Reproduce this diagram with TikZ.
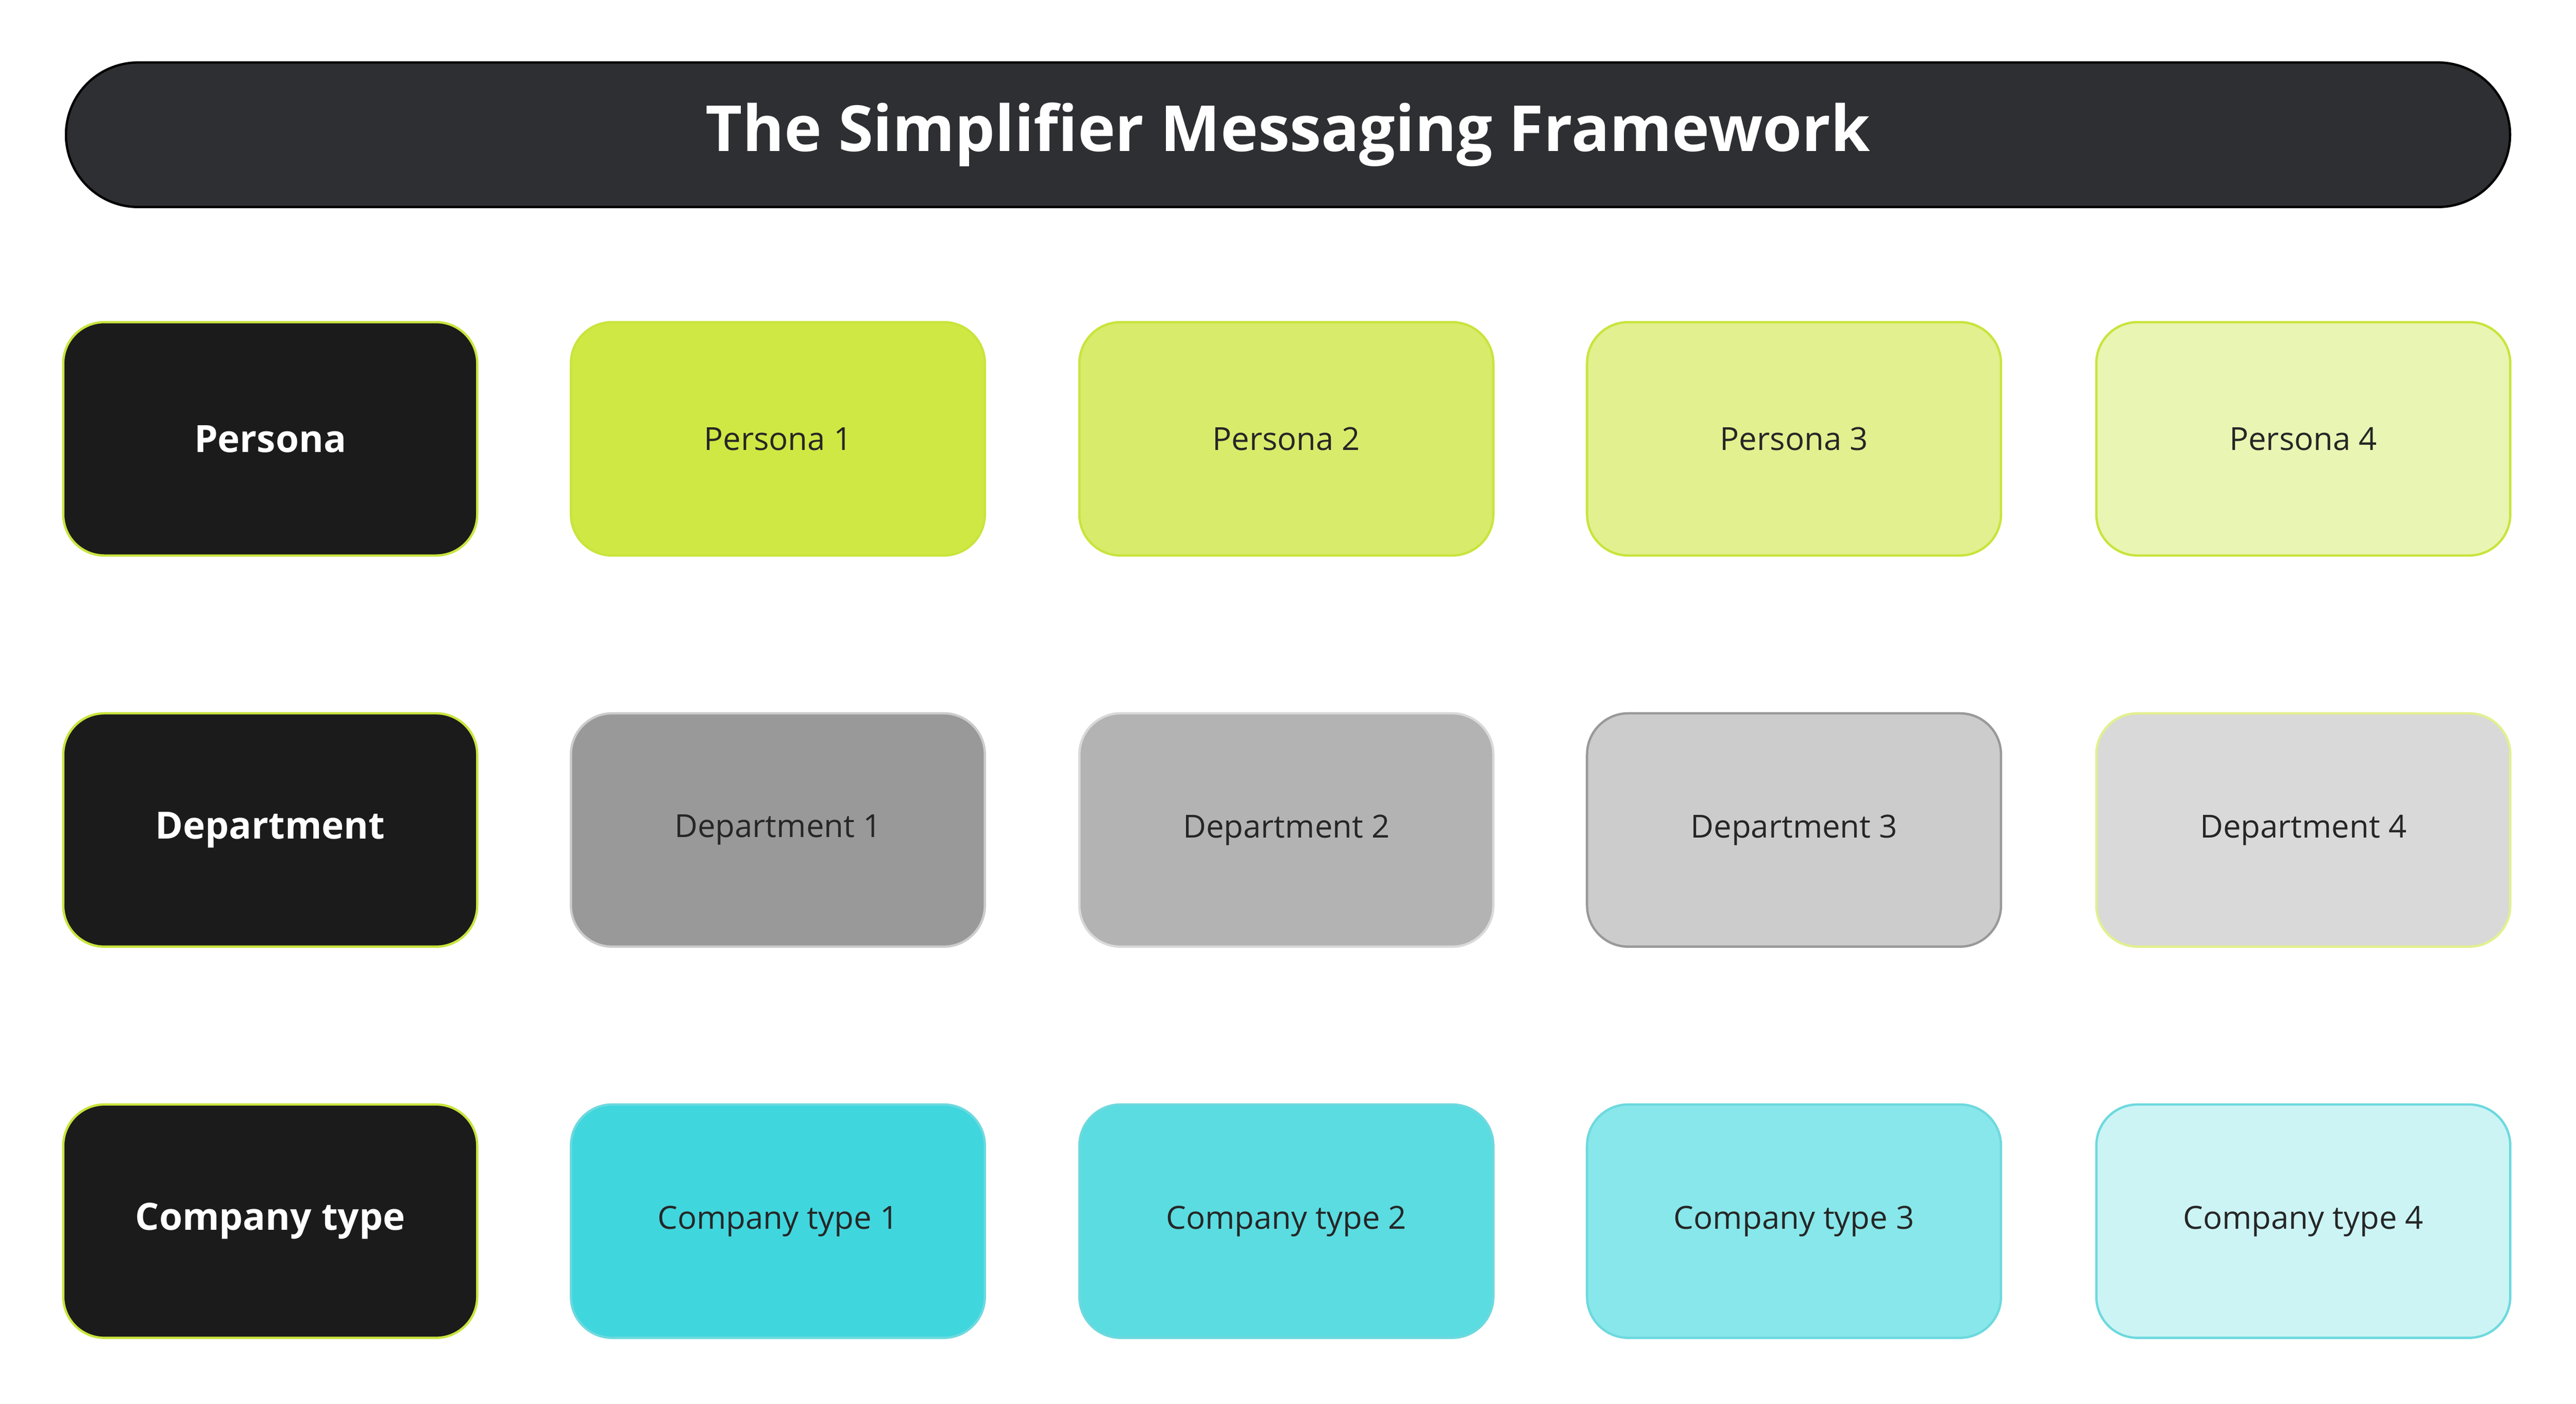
\documentclass[tikz,border=0pt]{standalone}
\usepackage{fontspec}
\setmainfont{Open Sans}
\usetikzlibrary{positioning}
\definecolor{titlebg}{HTML}{2E2F33}
\definecolor{headbg}{HTML}{1B1B1B}
\definecolor{lime}{HTML}{C9E43C}
\definecolor{pA}{HTML}{D0E843}
\definecolor{pB}{HTML}{D9EB6B}
\definecolor{pC}{HTML}{E2F08F}
\definecolor{pD}{HTML}{E9F5B3}
\definecolor{dA}{HTML}{999999}
\definecolor{dB}{HTML}{B3B3B3}
\definecolor{dC}{HTML}{CCCCCC}
\definecolor{dD}{HTML}{D9D9D9}
\definecolor{cA}{HTML}{40D6DE}
\definecolor{cB}{HTML}{5ADCE1}
\definecolor{cC}{HTML}{88E7EA}
\definecolor{cD}{HTML}{CCF4F5}
\definecolor{cline}{HTML}{2EC9D0}
\tikzset{
  cell/.style={draw, rounded corners=0.5cm, minimum width=5.04cm, minimum height=2.84cm,
    inner sep=0pt, line width=0.8pt, font=\fontsize{11}{13}\selectfont, text=black!85}, % grid boxes
  headcell/.style={cell, fill=headbg, draw=lime, text=white, font=\fontsize{13}{15}\selectfont\bfseries},
}
\begin{document}
\begin{tikzpicture}[x=0.02cm, y=-0.02cm]
  \useasboundingbox[fill=white] (0,0) rectangle (1568,854);
  \node[draw=black, fill=titlebg, rounded corners=0.88cm, minimum width=29.76cm, minimum height=1.76cm,
    line width=0.8pt, text=white, font=\fontsize{22}{26}\selectfont\bfseries] (title) at (784,82)
    {The Simplifier Messaging Framework};

  \node[headcell] (persona) at (164.5,267) {Persona};
  \node[headcell] (department) at (164.5,505) {Department};
  \node[headcell] (company) at (164.5,743) {Company type};

  \foreach \i/\x/\pc/\dc/\dl/\cc in {1/473.5/pA/dA/dC/cA, 2/783/pB/dB/dD/cB, 3/1092/pC/dC/dA/cC, 4/1402/pD/dD/pC/cD} {
    \node[cell, fill=\pc, draw=lime] (persona\i) at (\x,267) {Persona \i};
    \node[cell, fill=\dc, draw=\dl] (department\i) at (\x,505) {Department \i};
    \node[cell, fill=\cc, draw=cline!70] (company\i) at (\x,743) {Company type \i};
  }
\end{tikzpicture}
\end{document}
